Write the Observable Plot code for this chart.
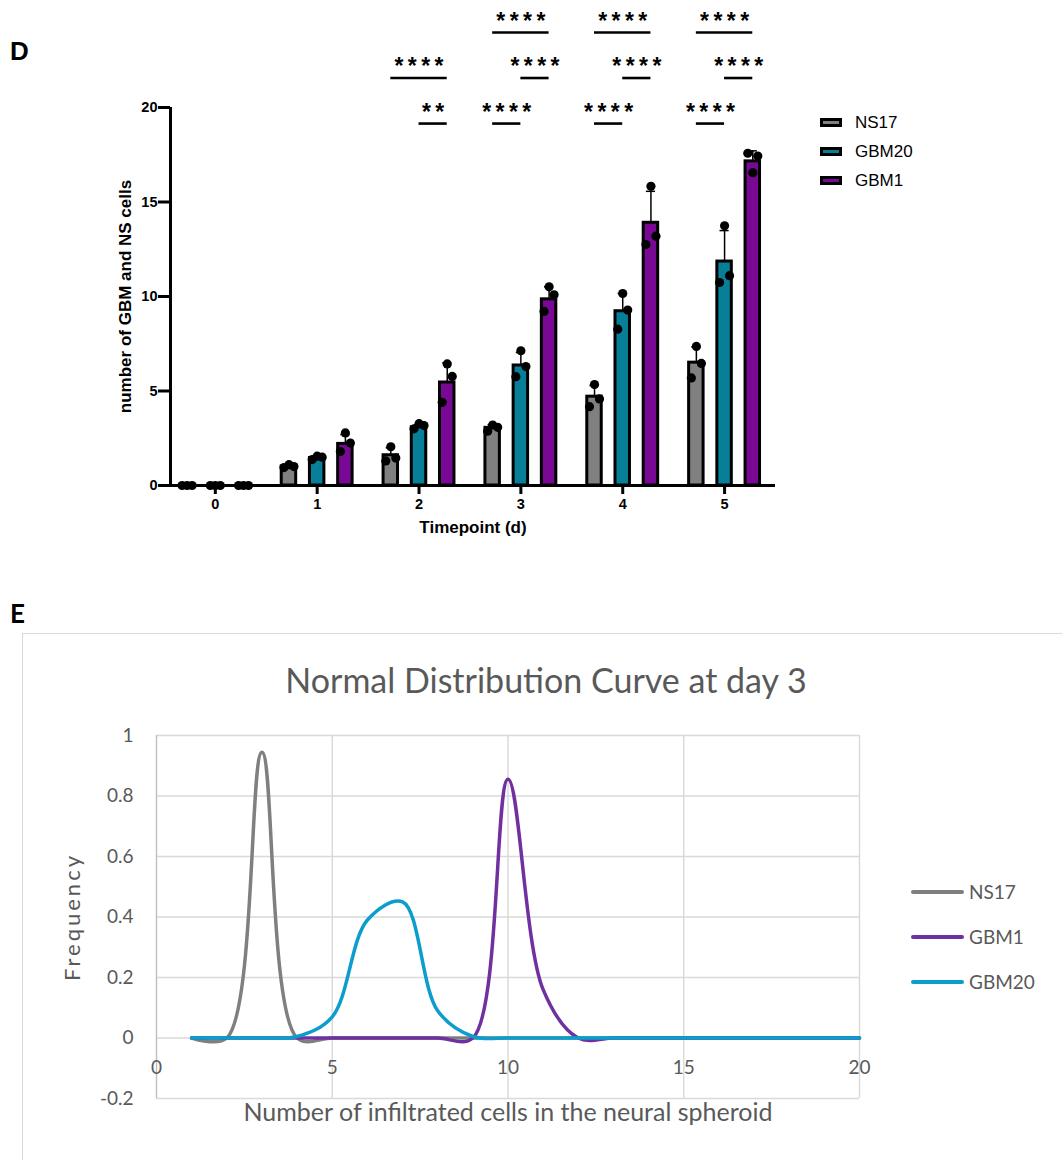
<!DOCTYPE html>
<html>
<head>
<meta charset="utf-8">
<script src="https://cdn.jsdelivr.net/npm/d3@7"></script>
<script src="https://cdn.jsdelivr.net/npm/@observablehq/plot@0.6"></script>
<style>
html, body { margin: 0; padding: 0; overflow: hidden; background: #fff; }
#page { position: relative; width: 1062px; height: 1160px; overflow: hidden; }
.abs { position: absolute; }
.panel { font-family: 'Liberation Sans', Arial, sans-serif; font-weight: bold; font-size: 26px; color: #000; line-height: 1; }
.legD { font-family: 'Liberation Sans', Arial, sans-serif; font-size: 17px; color: #000; }
.legD .row { height: 29px; display: flex; align-items: center; }
.legD .sw { display: inline-block; width: 16px; height: 3px; border: 3px solid #000; margin-right: 13px; }
.legE { font-family: Lato, 'Liberation Sans', sans-serif; font-size: 19px; color: #595959; }
.legE .row { height: 45px; display: flex; align-items: center; }
.legE .ln { display: inline-block; width: 53px; height: 4px; border-radius: 2px; margin-right: 5px; }
#boxE { left: 22px; top: 633px; width: 1100px; height: 600px; border: 1.5px solid #d9d9d9; }
#titleE { left: 0; width: 1092px; top: 663px; text-align: center; font-family: Lato, 'Liberation Sans', sans-serif; font-size: 34px; line-height: 34px; color: #595959; }
</style>
</head>
<body>
<div id="page"></div>
<script>
// ---------- Panel D data ----------
const timepoints = [0, 1, 2, 3, 4, 5];
const seriesD = ["NS17", "GBM20", "GBM1"];
const colorsD = ["#808080", "#087f98", "#790895"];

const ns17Mean  = [0, 1.0, 1.6, 3.05, 4.7, 6.5];
const gbm20Mean = [0, 1.45, 3.08, 6.35, 9.22, 11.85];
const gbm1Mean  = [0, 2.2, 5.45, 9.85, 13.9, 17.15];

const ns17Reps  = [[0, 0, 0], [1.1, 1.0, 0.95], [2.05, 1.45, 1.3], [3.2, 3.08, 2.87], [5.34, 4.58, 4.17], [7.36, 6.46, 5.69]];
const gbm20Reps = [[0, 0, 0], [1.55, 1.5, 1.37], [3.27, 3.17, 3.0], [7.13, 6.29, 5.76], [10.16, 9.28, 8.27], [13.74, 11.1, 10.74]];
const gbm1Reps  = [[0, 0, 0], [2.78, 2.25, 1.8], [6.43, 5.77, 4.4], [10.51, 10.09, 9.21], [15.83, 13.19, 12.75], [16.55, 17.43, 17.58]];

// significance brackets (timepoint, from series, to series, label, tier)
const sigTimepoint = [2, 2, 3, 3, 3, 4, 4, 4, 5, 5, 5];
const sigFrom  = ["GBM20", "NS17", "NS17", "GBM20", "NS17", "NS17", "GBM20", "NS17", "NS17", "GBM20", "NS17"];
const sigTo    = ["GBM1", "GBM1", "GBM20", "GBM1", "GBM1", "GBM20", "GBM1", "GBM1", "GBM20", "GBM1", "GBM1"];
const sigLabel = ["**", "****", "****", "****", "****", "****", "****", "****", "****", "****", "****"];
const sigTier  = [0, 1, 0, 1, 2, 0, 1, 2, 0, 1, 2];

// ---------- Panel E data ----------
const cellCounts = [1, 2, 3, 4, 5, 6, 7, 8, 9, 10, 11, 12, 13, 14, 15, 16, 17, 18, 19, 20];
const ns17Freq  = [0, 0, 0.945, 0, 0, 0, 0, 0, 0, 0, 0, 0, 0, 0, 0, 0, 0, 0, 0, 0];
const gbm1Freq  = [0, 0, 0, 0, 0, 0, 0, 0, 0, 0.855, 0.16, 0, 0, 0, 0, 0, 0, 0, 0, 0];
const gbm20Freq = [0, 0, 0, 0.005, 0.07, 0.39, 0.45, 0.09, 0.005, 0, 0, 0, 0, 0, 0, 0, 0, 0, 0, 0];
const seriesE = ["NS17", "GBM1", "GBM20"];
const colorsE = ["#7f7f7f", "#7030a0", "#0b9dcc"];
const yTicksE = [-0.2, 0, 0.2, 0.4, 0.6, 0.8, 1];
const xTicksE = [0, 5, 10, 15, 20];

// ---------- build D ----------
const meansD = [ns17Mean, gbm20Mean, gbm1Mean];
const repsD = [ns17Reps, gbm20Reps, gbm1Reps];
const groupOffset = 0.277;
const barHalf = 0.071;
const capHalf = 0.045;
const xDomainD = [-0.44, 5.5];

const bars = [];
seriesD.forEach((s, si) => {
  timepoints.forEach((t, ti) => {
    const reps = repsD[si][ti];
    bars.push({
      t, series: s, xc: t + (si - 1) * groupOffset,
      mean: meansD[si][ti], reps, sd: d3.deviation(reps) || 0
    });
  });
});
const dotsByRep = [0, 1, 2].map(ri => bars.map(b => ({xc: b.xc, v: b.reps[ri]})));
const xcOf = (t, s) => t + (seriesD.indexOf(s) - 1) * groupOffset;
const sig = sigTimepoint.map((t, i) => ({
  xa: xcOf(t, sigFrom[i]), xb: xcOf(t, sigTo[i]), label: sigLabel[i], tier: sigTier[i]
}));
const tierY = tier => 19.15 + tier * 2.41;

const plotD = Plot.plot({
  width: 800, height: 560,
  marginLeft: 170, marginRight: 25, marginTop: 107, marginBottom: 75,
  x: {domain: xDomainD, axis: null},
  y: {domain: [0, 20], axis: null},
  color: {domain: seriesD, range: colorsD},
  style: {fontFamily: "'Liberation Sans', Arial, sans-serif", fontWeight: "bold", fontSize: "14.5px", color: "#000", background: "transparent", overflow: "visible"},
  marks: [
    Plot.rectY(bars, {x1: d => d.xc - barHalf, x2: d => d.xc + barHalf, y1: 0, y2: "mean", fill: "series", stroke: "#000", strokeWidth: 3}),
    Plot.ruleX(bars, {x: "xc", y1: "mean", y2: d => d.mean + d.sd, stroke: "#000", strokeWidth: 1.5}),
    Plot.ruleY(bars, {y: d => d.mean + d.sd, x1: d => d.xc - capHalf, x2: d => d.xc + capHalf, stroke: "#000", strokeWidth: 1.5}),
    Plot.dot(dotsByRep[0], {x: "xc", y: "v", r: 4.6, fill: "#000", dx: 0}),
    Plot.dot(dotsByRep[1], {x: "xc", y: "v", r: 4.6, fill: "#000", dx: 5}),
    Plot.dot(dotsByRep[2], {x: "xc", y: "v", r: 4.6, fill: "#000", dx: -5}),
    Plot.ruleX([xDomainD[0]], {y1: 0, y2: 20, stroke: "#000", strokeWidth: 3}),
    Plot.ruleY([0], {stroke: "#000", strokeWidth: 3}),
    Plot.axisY({ticks: [0, 5, 10, 15, 20], tickSize: 12, tickPadding: 1, strokeWidth: 3, label: null, tickFormat: d => String(d)}),
    Plot.axisX({ticks: timepoints, tickSize: 9, tickPadding: 4, strokeWidth: 3, label: null, tickFormat: d => String(d)}),
    Plot.text(["Timepoint (d)"], {frameAnchor: "bottom", dy: 47, fontSize: 17}),
    Plot.text(["number of GBM and NS cells"], {frameAnchor: "left", textAnchor: "middle", dx: -45, rotate: -90, fontSize: 17}),
    Plot.ruleY(sig, {y: d => tierY(d.tier), x1: "xa", x2: "xb", stroke: "#000", strokeWidth: 2.6}),
    Plot.text(sig, {x: d => (d.xa + d.xb) / 2, y: d => tierY(d.tier), text: "label", dy: -11, fontSize: 23})
  ]
});
d3.select(plotD).selectAll("text").filter(function() { return /^\*+$/.test(this.textContent); })
  .attr("letter-spacing", "4.4px").attr("dx", "2.2px");

// ---------- build E ----------
const freqE = [ns17Freq, gbm1Freq, gbm20Freq];
const curves = [];
seriesE.forEach((s, si) => cellCounts.forEach((c, i) => curves.push({series: s, count: c, freq: freqE[si][i]})));

const plotE = Plot.plot({
  width: 1062, height: 450,
  marginLeft: 156, marginRight: 203, marginTop: 35, marginBottom: 52,
  x: {domain: [0, 20], axis: null},
  y: {domain: [-0.2, 1], axis: null},
  color: {domain: seriesE, range: colorsE},
  style: {fontFamily: "Lato, 'Liberation Sans', sans-serif", fontSize: "19px", color: "#595959", background: "transparent", overflow: "visible"},
  marks: [
    Plot.gridY({ticks: yTicksE, stroke: "#d9d9d9", strokeOpacity: 1, strokeWidth: 1.4}),
    Plot.gridX({ticks: xTicksE.filter(d => d > 0), stroke: "#d9d9d9", strokeOpacity: 1, strokeWidth: 1.4}),
    Plot.ruleX([0], {stroke: "#bfbfbf", strokeWidth: 1.4}),
    Plot.axisY({ticks: yTicksE, tickSize: 0, tickPadding: 23, label: null, tickFormat: d => String(d)}),
    Plot.text(xTicksE, {x: d => d, y: 0, dy: 30, text: d => String(d), fontSize: 19}),
    Plot.line(curves, {x: "count", y: "freq", z: "series", stroke: "series", strokeWidth: 3.5, curve: "catmull-rom"}),
    Plot.text(["Frequency"], {frameAnchor: "left", textAnchor: "middle", dx: -84, rotate: -90, fontSize: 22}),
    Plot.text(["Number of infiltrated cells in the neural spheroid"], {frameAnchor: "bottom", dy: 22, fontSize: 25})
  ]
});
d3.select(plotE).selectAll("text").filter(function() { return this.textContent === "Frequency"; })
  .attr("letter-spacing", "3px");

// ---------- assemble ----------
const page = document.getElementById("page");
function add(el, left, top) { el.classList.add("abs"); el.style.left = left + "px"; el.style.top = top + "px"; page.appendChild(el); return el; }

const box = document.createElement("div"); box.id = "boxE"; box.className = "abs"; page.appendChild(box);
add(plotD, 0, 0);
add(plotE, 0, 700);

const lblD = document.createElement("div"); lblD.className = "panel"; lblD.textContent = "D"; add(lblD, 10, 38);
const lblE = document.createElement("div"); lblE.className = "panel"; lblE.style.fontFamily = "Lato, 'Liberation Sans', sans-serif"; lblE.textContent = "E"; add(lblE, 10, 600);

const title = document.createElement("div"); title.id = "titleE"; title.className = "abs"; title.textContent = "Normal Distribution Curve at day 3"; page.appendChild(title);

const legD = document.createElement("div"); legD.className = "legD";
seriesD.forEach((s, i) => {
  const row = document.createElement("div"); row.className = "row";
  const sw = document.createElement("span"); sw.className = "sw"; sw.style.background = colorsD[i];
  const tx = document.createElement("span"); tx.textContent = s;
  row.appendChild(sw); row.appendChild(tx); legD.appendChild(row);
});
add(legD, 820, 108);

const legE = document.createElement("div"); legE.className = "legE";
seriesE.forEach((s, i) => {
  const row = document.createElement("div"); row.className = "row";
  const ln = document.createElement("span"); ln.className = "ln"; ln.style.background = colorsE[i];
  const tx = document.createElement("span"); tx.textContent = s;
  row.appendChild(ln); row.appendChild(tx); legE.appendChild(row);
});
add(legE, 911, 869);
</script>
</body>
</html>
